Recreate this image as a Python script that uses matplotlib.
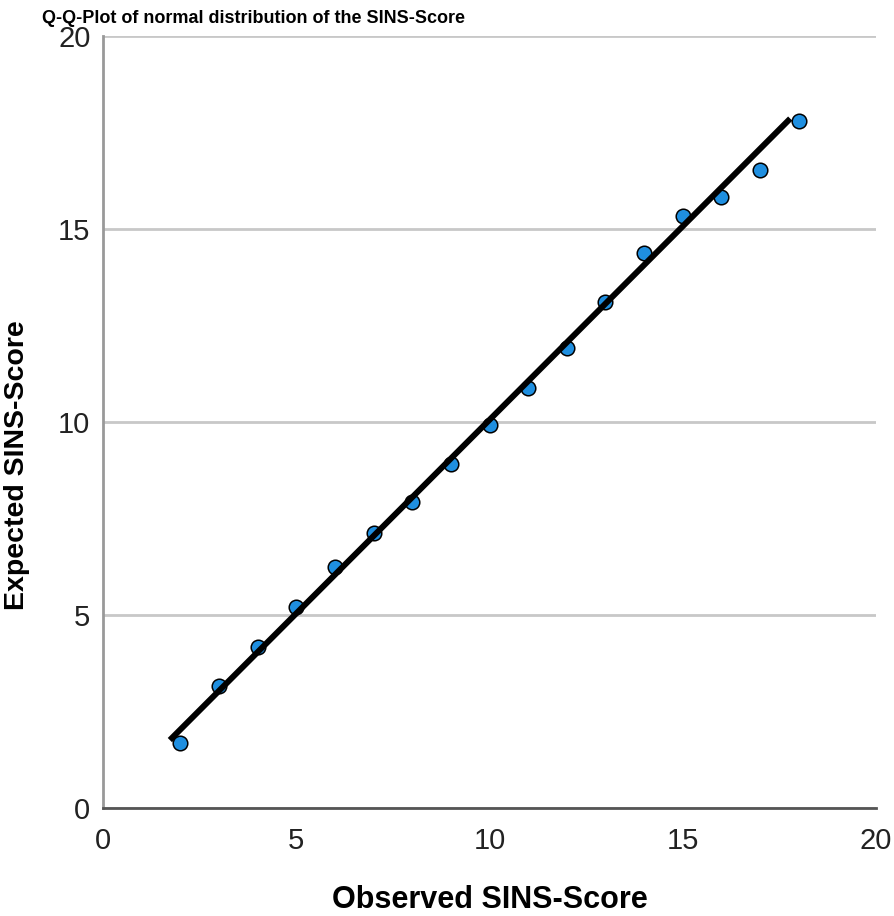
import matplotlib
matplotlib.use("Agg")
import matplotlib.pyplot as plt
from matplotlib import font_manager

# observed vs expected SINS-Score
observed = [2, 3, 4, 5, 6, 7, 8, 9, 10, 11, 12, 13, 14, 15, 16, 17, 18]
expected = [1.69, 3.17, 4.18, 5.22, 6.25, 7.12, 7.94, 8.91, 9.92, 10.87, 11.92,
            13.12, 14.39, 15.34, 15.84, 16.53, 17.81]

# reference line end points
line_x = [1.73, 17.78]
line_y = [1.76, 17.86]

ticks = [0, 5, 10, 15, 20]

plt.rcParams['font.family'] = ['Liberation Sans', 'DejaVu Sans']

# a narrow face for the title if one is around
names = set(f.name for f in font_manager.fontManager.ttflist)
narrow = [n for n in ['Liberation Sans Narrow', 'DejaVu Sans Condensed'] if n in names]
title_font = narrow + ['Liberation Sans', 'DejaVu Sans']
title_size = 19 if narrow else 13

fig = plt.figure(figsize=(8.94, 9.16), dpi=100)
ax = fig.add_axes([0.1152, 0.1179, 0.8647, 0.8428])

ax.scatter(observed, expected, s=110, color='#1f8fe0', edgecolor='black',
           linewidth=1.1, zorder=3)
ax.plot(line_x, line_y, color='black', linewidth=4.3, solid_capstyle='butt', zorder=4)

ax.set_xlim(0, 20)
ax.set_ylim(0, 20)
ax.set_xticks(ticks)
ax.set_yticks(ticks)
ax.tick_params(length=0, labelsize=21, labelcolor='#222222')
ax.tick_params(axis='x', pad=14)
ax.tick_params(axis='y', pad=9)

ax.yaxis.grid(True, color='#c8c8c8', linewidth=2)
ax.set_axisbelow(True)
for s in ['top', 'right']:
    ax.spines[s].set_visible(False)
ax.spines['left'].set_color('#999999')
ax.spines['left'].set_linewidth(2)
ax.spines['bottom'].set_color('#555555')
ax.spines['bottom'].set_linewidth(2)

ax.set_xlabel('Observed SINS-Score', fontsize=22, fontweight='bold')
ax.set_ylabel('Expected SINS-Score', fontsize=20.5, fontweight='bold')
ax.xaxis.set_label_coords(0.5, -0.1)
ax.yaxis.set_label_coords(-0.094, 0.444)

fig.text(0.047, 0.975, 'Q-Q-Plot of normal distribution of the SINS-Score',
         fontsize=title_size, fontweight='bold', va='baseline', family=title_font)

fig.savefig('out.png', dpi=100)
